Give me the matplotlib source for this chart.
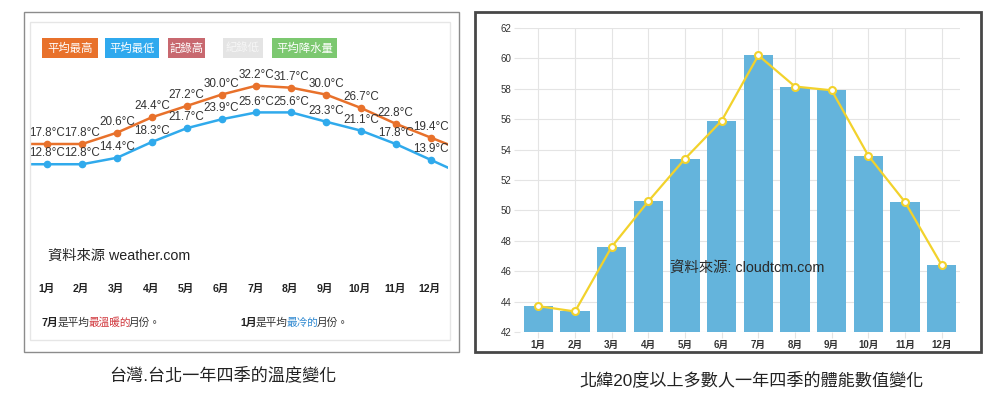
#!/usr/bin/python3

# Two panels side by side: Taipei monthly temperatures and seasonal fitness values
import numpy as np
import matplotlib.pyplot as plt
from matplotlib.patches import Rectangle
from matplotlib.transforms import blended_transform_factory

plt.rcParams['font.family'] = ['Liberation Sans', 'Noto Sans CJK TC', 'DejaVu Sans']

################################################Data################################################

months = ['1月', '2月', '3月', '4月', '5月', '6月', '7月', '8月', '9月', '10月', '11月', '12月']
avg_high = [17.8, 17.8, 20.6, 24.4, 27.2, 30.0, 32.2, 31.7, 30.0, 26.7, 22.8, 19.4]
avg_low = [12.8, 12.8, 14.4, 18.3, 21.7, 23.9, 25.6, 25.6, 23.3, 21.1, 17.8, 13.9]
legend_names = ['平均最高', '平均最低', '記錄高', '紀錄低', '平均降水量']
legend_colors = ['#e8712b', '#2fa9ee', '#c8686f', '#e4e4e4', '#7cc870']
legend_text_colors = ['white', 'white', 'white', '#f6f6f6', 'white']

fitness = [43.7, 43.35, 47.6, 50.6, 53.4, 55.9, 60.2, 58.15, 57.9, 53.6, 50.55, 46.4]
fitness_ticks = [42, 44, 46, 48, 50, 52, 54, 56, 58, 60, 62]

left_caption = '台灣.台北一年四季的溫度變化'
right_caption = '北緯20度以上多數人一年四季的體能數值變化'

#############################################Functions##############################################

W, H = 1000, 397


def pbox(x0, y0, x1, y1):
    # pixel box (top-down) -> figure rect
    return [x0 / W, 1 - y1 / H, (x1 - x0) / W, (y1 - y0) / H]


def fx(x):
    return x / W


def fy(y):
    return 1 - y / H


def frame(x0, y0, x1, y1, color, lw, fc='none'):
    r = Rectangle((fx(x0), fy(y1)), (x1 - x0) / W, (y1 - y0) / H, transform=fig.transFigure,
                  fill=fc != 'none', facecolor=fc, edgecolor=color, linewidth=lw)
    fig.add_artist(r)


def extend(vals):
    # line runs half a month beyond the first/last point, following the end segments
    v = list(vals)
    return [v[0] - (v[1] - v[0]) / 2] + v + [v[-1] + (v[-1] - v[-2]) / 2]


def colored_text(x, y, parts, size):
    # pieces of one line in different colours, placed one after another
    em = size * 100 / 72
    for s, c, w in parts:
        fig.text(fx(x), fy(y), s, color=c, fontsize=size, fontweight=w, va='center')
        x += sum(0.556 if ch.isascii() else 0.94 for ch in s) * em

#################################################Main###############################################

fig = plt.figure(figsize=(10, 3.97), dpi=100)
x = np.arange(1, 13)

# ---------------- left panel ----------------
frame(24, 12, 459, 352, '#8c8c8c', 1.0)
frame(30, 22, 450, 340, '#e6e6e6', 1.0)

legend_spans = [(42, 98), (105, 159), (168, 205), (223, 263), (272, 337)]
for (a, b), name, c, tc in zip(legend_spans, legend_names, legend_colors, legend_text_colors):
    frame(a, 38, b, 58, c, 0, fc=c)
    fig.text(fx((a + b) / 2), fy(48), name, color=tc, fontsize=8.2, ha='center', va='center')

axl = fig.add_axes(pbox(30, 60, 448, 200))
xe = np.concatenate([[0.5], x, [12.5]])
axl.plot(xe, extend(avg_high), color='#e8712b', lw=1.8)
axl.plot(x, avg_high, 'o', color='#e8712b', ms=4.5)
axl.plot(xe, extend(avg_low), color='#30aaec', lw=1.8)
axl.plot(x, avg_low, 'o', color='#30aaec', ms=4.5)
for xi, h, l in zip(x, avg_high, avg_low):
    axl.annotate(f'{h:.1f}°C', (xi, h), xytext=(0, 7.8), textcoords='offset points',
                 ha='center', va='center', fontsize=8.4, color='#333333')
    axl.annotate(f'{l:.1f}°C', (xi, l), xytext=(0, 7.8), textcoords='offset points',
                 ha='center', va='center', fontsize=8.4, color='#333333')
axl.set_xlim(0.5, 12.5)
axl.set_ylim(3.97, 38.54)
axl.axis('off')

fig.text(fx(48), fy(256), '資料來源 weather.com', fontsize=10.3, color='#222222', va='center')

trans = blended_transform_factory(axl.transData, fig.transFigure)
for xi, m in zip(x, months):
    fig.text(xi - 0.03, fy(289), m, transform=trans, ha='center', va='center',
             fontsize=7.6, fontweight='bold', color='#222222')

colored_text(42, 323, [('7月', '#222222', 'bold'), ('是平均', '#333333', 'normal'),
                       ('最溫暖的', '#d0353b', 'normal'), ('月份。', '#333333', 'normal')], 7.7)
colored_text(240, 323, [('1月', '#222222', 'bold'), ('是平均', '#333333', 'normal'),
                        ('最冷的', '#2a86d0', 'normal'), ('月份。', '#333333', 'normal')], 7.7)

fig.text(fx(223), fy(375), left_caption, fontsize=12.3, color='#222222', ha='center', va='center')

# ---------------- right panel ----------------
frame(475, 12, 981, 352, '#474747', 2.0)

axr = fig.add_axes(pbox(520, 28, 960, 332))
axr.bar(x, fitness, width=0.8, color='#64b4dc', zorder=2)
axr.plot(x, fitness, color='#f2d22c', lw=1.6, marker='o', ms=5, mfc='white',
         mec='#f2d22c', mew=1.5, zorder=3)
axr.set_xlim(0.5, 12.5)
axr.set_ylim(42, 62)
axr.set_yticks(fitness_ticks)
axr.set_xticks(x)
axr.set_xticklabels(months, fontweight='bold')
axr.set_axisbelow(True)
axr.grid(True, color='#e4e4e4', lw=0.8)
for s in axr.spines.values():
    s.set_visible(False)
axr.tick_params(length=4, color='#e4e4e4', labelsize=7, labelcolor='#333333', pad=2)

fig.text(fx(747), fy(269), '資料來源: cloudtcm.com', fontsize=10.4, color='#2a2a2a',
         ha='center', va='center', zorder=5)

fig.text(fx(752), fy(380), right_caption, fontsize=12.3, color='#222222', ha='center', va='center')

fig.savefig('out.png', dpi=100)
